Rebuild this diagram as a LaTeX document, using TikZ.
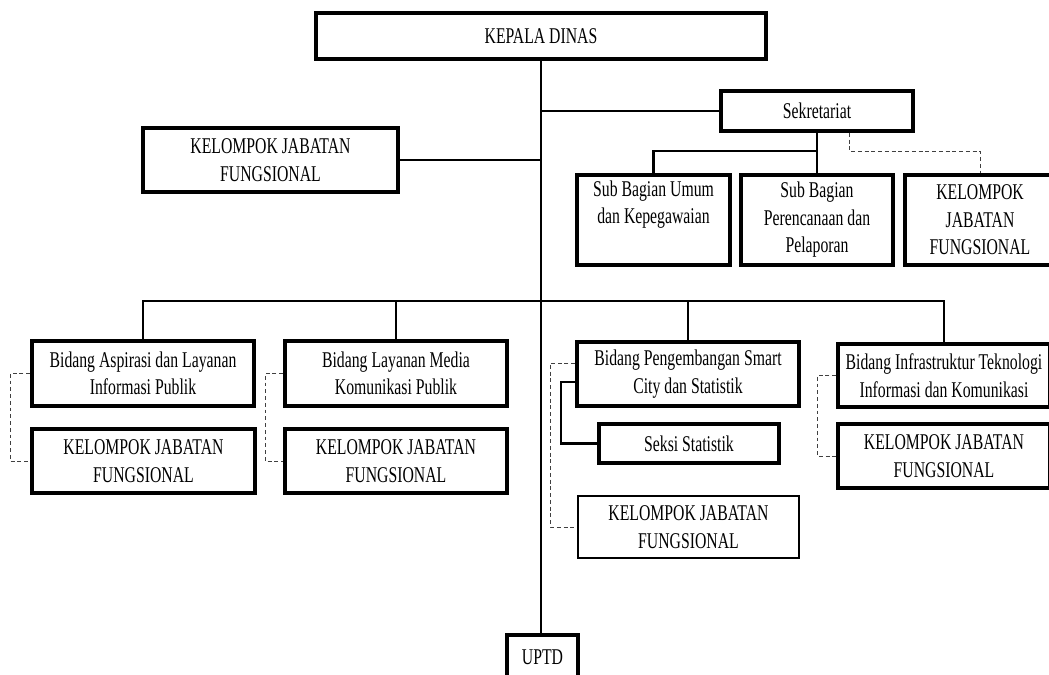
\documentclass[tikz,border=0pt]{standalone}
\usepackage{fontspec}
\setmainfont{Liberation Serif}[FakeStretch=0.7]

\tikzset{
		box/.style={draw, line width=2.6pt, align=center, inner sep=2pt, font=\fontsize{16pt}{19.5pt}\selectfont},
		thinbox/.style={box, line width=1.5pt},
		link/.style={black, line width=1.5pt},
		dashlink/.style={black!75, line width=0.7pt, dash pattern=on 2.8pt off 2pt}
	}

\begin{document}
\begin{tikzpicture}[x=0.025cm,y=-0.025cm]
\useasboundingbox (0,0) rectangle (1049,675);
\clip (0,0) rectangle (1049,675);

\node (kepala) at (541,36) [box,minimum width=11.25cm,minimum height=1.15cm] {KEPALA DINAS};
\node (sekre) at (817,111) [box,minimum width=4.8cm,minimum height=1cm] {Sekretariat};
\node (kjfa) at (270.5,160) [box,minimum width=6.375cm,minimum height=1.6cm] {KELOMPOK JABATAN\\FUNGSIONAL};

\node (umum) at (653.5,220) [box,minimum width=3.825cm,minimum height=2.25cm] {Sub Bagian Umum\\dan Kepegawaian\\\strut};
\node (renc) at (817,220) [box,minimum width=3.8cm,minimum height=2.25cm] {Sub Bagian\\Perencanaan dan\\Pelaporan};
\node (kjfb) at (980,220) [box,minimum width=3.75cm,minimum height=2.25cm] {KELOMPOK\\JABATAN\\FUNGSIONAL};

\node (aspirasi) at (143,373.5) [box,minimum width=5.55cm,minimum height=1.625cm] {Bidang Aspirasi dan Layanan\\Informasi Publik};
\node (kjfc) at (143.5,461) [box,minimum width=5.575cm,minimum height=1.6cm] {KELOMPOK JABATAN\\FUNGSIONAL};

\node (media) at (396,373.5) [box,minimum width=5.55cm,minimum height=1.625cm] {Bidang Layanan Media\\Komunikasi Publik};
\node (kjfd) at (396,461) [box,minimum width=5.55cm,minimum height=1.6cm] {KELOMPOK JABATAN\\FUNGSIONAL};

\node (smart) at (688,374) [box,minimum width=5.55cm,minimum height=1.6cm] {Bidang Pengembangan Smart\\City dan Statistik};
\node (seksi) at (689,443.5) [box,minimum width=4.5cm,minimum height=0.975cm] {Seksi Statistik};
\node (kjfe) at (688.5,527) [thinbox,minimum width=5.525cm,minimum height=1.55cm] {KELOMPOK JABATAN\\FUNGSIONAL};

\node (infra) at (944,375.5) [box,minimum width=5.3cm,minimum height=1.575cm] {Bidang Infrastruktur Teknologi\\Informasi dan Komunikasi};
\node (kjff) at (944,456) [box,minimum width=5.3cm,minimum height=1.6cm] {KELOMPOK JABATAN\\FUNGSIONAL};

\node (uptd) at (542.5,657.5) [box,minimum width=1.775cm,minimum height=1.125cm] {UPTD};

\coordinate (sbar) at (817,151);
\coordinate (sdash) at (849,151);
\coordinate (bus) at (540,301);

% trunk and top level
\draw [link] (kepala.south) -- (kepala.south |- uptd.north);
\draw [link] (kepala.south |- sekre.west) -- (sekre.west);
\draw [link] (kjfa.east) -- (kepala.south |- kjfa.east);

% sekretariat
\draw [link] (sekre.south) -- (renc.north);
\draw [link] (umum.north) |- (sbar);
\draw [dashlink] (sdash |- sekre.south) -- (sdash) -| (kjfb.north);

% bidang
\draw [link] (aspirasi.north) |- (bus);
\draw [link] (media.north) |- (bus);
\draw [link] (smart.north) |- (bus);
\draw [link] (infra.north) |- (bus);

\draw [dashlink] (aspirasi.west) -- ++(-20,0) |- (kjfc.west);
\draw [dashlink] (media.west) -- ++(-18,0) |- (kjfd.west);
\draw [dashlink] (infra.west) -- ++(-19,0) |- (kjff.west);
\draw [dashlink] ([yshift=0.275cm]smart.west) -- ++(-25,0) |- (kjfe.west);
\draw [link] ([yshift=-0.2cm]smart.west) -- ++(-14,0) |- (seksi.west);

\end{tikzpicture}
\end{document}
